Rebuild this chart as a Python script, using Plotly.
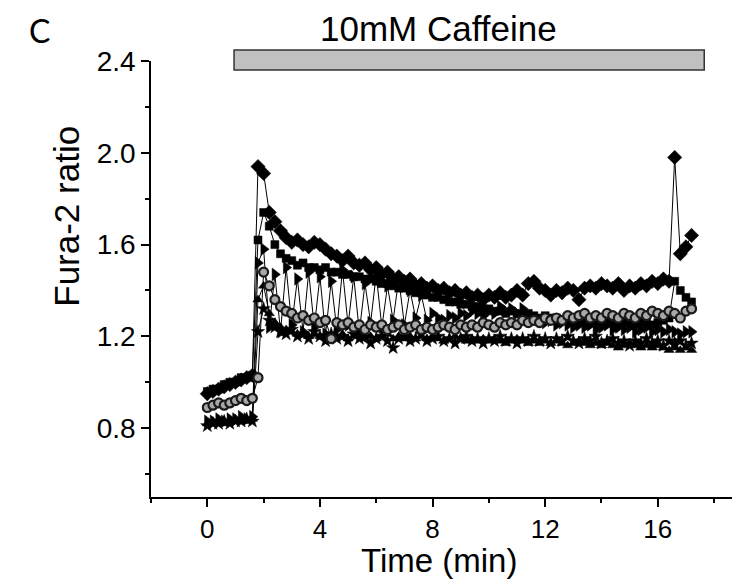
import plotly.graph_objects as go

# Time grid (min)
time_min = [
    0.0, 0.2, 0.4, 0.6, 0.8, 1.0, 1.2, 1.4, 1.6, 1.8,
    2.0, 2.2, 2.4, 2.6, 2.8, 3.0, 3.2, 3.4, 3.6, 3.8,
    4.0, 4.2, 4.4, 4.6, 4.8, 5.0, 5.2, 5.4, 5.6, 5.8,
    6.0, 6.2, 6.4, 6.6, 6.8, 7.0, 7.2, 7.4, 7.6, 7.8,
    8.0, 8.2, 8.4, 8.6, 8.8, 9.0, 9.2, 9.4, 9.6, 9.8,
    10.0, 10.2, 10.4, 10.6, 10.8, 11.0, 11.2, 11.4, 11.6, 11.8,
    12.0, 12.2, 12.4, 12.6, 12.8, 13.0, 13.2, 13.4, 13.6, 13.8,
    14.0, 14.2, 14.4, 14.6, 14.8, 15.0, 15.2, 15.4, 15.6, 15.8,
    16.0, 16.2, 16.4, 16.6, 16.8, 17.0, 17.2,
]

cell_diamond = [
    0.95, 0.96, 0.97, 0.98, 0.99, 1.00, 1.01, 1.02, 1.03, 1.94,
    1.91, 1.74, 1.70, 1.66, 1.63, 1.61, 1.62, 1.60, 1.59, 1.61,
    1.60, 1.58, 1.56, 1.55, 1.53, 1.55, 1.52, 1.51, 1.52, 1.49,
    1.50, 1.47, 1.48, 1.45, 1.46, 1.44, 1.45, 1.42, 1.43, 1.41,
    1.42, 1.40, 1.41, 1.39, 1.40, 1.38, 1.39, 1.37, 1.38, 1.36,
    1.38, 1.37, 1.39, 1.37, 1.38, 1.40, 1.38, 1.43, 1.44, 1.41,
    1.40, 1.38, 1.40, 1.39, 1.41, 1.40, 1.36, 1.41, 1.42, 1.41,
    1.43, 1.42, 1.41, 1.43, 1.40, 1.42, 1.41, 1.43, 1.42, 1.44,
    1.43, 1.45, 1.44, 1.98, 1.56, 1.59, 1.64,
]

cell_square = [
    0.96, 0.97, 0.97, 0.99, 1.00, 1.00, 1.02, 1.02, 1.03, 1.62,
    1.74, 1.68, 1.60, 1.56, 1.54, 1.53, 1.51, 1.52, 1.50, 1.50,
    1.49, 1.50, 1.48, 1.48, 1.47, 1.47, 1.46, 1.46, 1.45, 1.45,
    1.44, 1.43, 1.43, 1.42, 1.41, 1.41, 1.40, 1.39, 1.39, 1.38,
    1.37, 1.37, 1.36, 1.35, 1.35, 1.34, 1.34, 1.33, 1.33, 1.32,
    1.32, 1.31, 1.31, 1.30, 1.31, 1.30, 1.29, 1.30, 1.29, 1.28,
    1.29, 1.28, 1.28, 1.27, 1.28, 1.27, 1.27, 1.26, 1.27, 1.26,
    1.26, 1.27, 1.26, 1.25, 1.26, 1.26, 1.25, 1.26, 1.26, 1.25,
    1.26, 1.27, 1.28, 1.44, 1.40, 1.37, 1.35,
]

cell_circle = [
    0.89, 0.90, 0.91, 0.90, 0.91, 0.92, 0.93, 0.92, 0.93, 1.02,
    1.48, 1.42, 1.36, 1.33, 1.31, 1.30, 1.28, 1.29, 1.27, 1.28,
    1.26, 1.27, 1.19, 1.26, 1.25, 1.26, 1.24, 1.25, 1.23, 1.25,
    1.24, 1.25, 1.23, 1.24, 1.25, 1.23, 1.24, 1.25, 1.23, 1.24,
    1.23, 1.24, 1.25, 1.24, 1.23, 1.25, 1.24, 1.25, 1.24, 1.26,
    1.25, 1.24, 1.26, 1.25, 1.26, 1.25, 1.27, 1.26, 1.27, 1.26,
    1.28, 1.27, 1.28, 1.27, 1.29, 1.28, 1.29, 1.30, 1.28, 1.29,
    1.28, 1.30, 1.29, 1.28, 1.30, 1.29, 1.28, 1.30, 1.29, 1.31,
    1.30, 1.29, 1.31, 1.30, 1.28, 1.31, 1.32,
]

cell_right_tri = [
    0.83, 0.83, 0.84, 0.83, 0.84, 0.84, 0.85, 0.84, 0.85, 1.52,
    1.58, 1.24, 1.47, 1.22, 1.50, 1.25, 1.45, 1.22, 1.48, 1.24,
    1.46, 1.21, 1.44, 1.23, 1.49, 1.25, 1.46, 1.22, 1.43, 1.26,
    1.47, 1.24, 1.42, 1.27, 1.45, 1.25, 1.40, 1.28, 1.38, 1.27,
    1.30, 1.28, 1.27, 1.29, 1.28, 1.30, 1.29, 1.31, 1.30, 1.29,
    1.31, 1.30, 1.33, 1.31, 1.32, 1.30, 1.32, 1.29, 1.28, 1.27,
    1.26, 1.27, 1.25, 1.26, 1.25, 1.24, 1.25, 1.24, 1.25, 1.23,
    1.24, 1.25, 1.23, 1.24, 1.23, 1.24, 1.22, 1.23, 1.24, 1.22,
    1.23, 1.22, 1.23, 1.22, 1.21, 1.22, 1.22,
]

cell_triangle = [
    0.82, 0.82, 0.83, 0.82, 0.83, 0.83, 0.84, 0.83, 0.84, 1.36,
    1.42, 1.30, 1.26, 1.24, 1.23, 1.22, 1.21, 1.22, 1.20, 1.21,
    1.20, 1.21, 1.19, 1.20, 1.21, 1.19, 1.20, 1.21, 1.19, 1.20,
    1.19, 1.20, 1.21, 1.19, 1.20, 1.19, 1.20, 1.19, 1.20, 1.19,
    1.20, 1.19, 1.18, 1.19, 1.20, 1.19, 1.18, 1.19, 1.18, 1.19,
    1.18, 1.19, 1.18, 1.17, 1.18, 1.19, 1.18, 1.17, 1.18, 1.17,
    1.18, 1.17, 1.18, 1.17, 1.16, 1.17, 1.18, 1.17, 1.16, 1.17,
    1.16, 1.17, 1.16, 1.15, 1.16, 1.17, 1.16, 1.15, 1.16, 1.15,
    1.16, 1.15, 1.14, 1.15, 1.14, 1.15, 1.14,
]

cell_star = [
    0.81, 0.82, 0.82, 0.83, 0.82, 0.83, 0.83, 0.84, 0.83, 1.22,
    1.32, 1.27, 1.24, 1.22, 1.21, 1.23, 1.20, 1.21, 1.19, 1.22,
    1.20, 1.18, 1.21, 1.19, 1.20, 1.18, 1.21, 1.19, 1.20, 1.17,
    1.19, 1.20, 1.18, 1.15, 1.19, 1.20, 1.18, 1.19, 1.21, 1.18,
    1.19, 1.20, 1.18, 1.19, 1.17, 1.19, 1.20, 1.18, 1.19, 1.17,
    1.19, 1.18, 1.20, 1.18, 1.19, 1.17, 1.19, 1.18, 1.20, 1.18,
    1.19, 1.17, 1.19, 1.18, 1.20, 1.18, 1.17, 1.19, 1.18, 1.20,
    1.17, 1.18, 1.19, 1.17, 1.18, 1.16, 1.18, 1.17, 1.19, 1.17,
    1.18, 1.16, 1.18, 1.17, 1.18, 1.16, 1.17,
]

series = [
    ("star", cell_star, "star", 10, "black", "black", 0.5),
    ("triangle", cell_triangle, "triangle-up", 9, "black", "black", 0.5),
    ("right", cell_right_tri, "triangle-right", 11, "black", "black", 0.5),
    ("square", cell_square, "square", 8, "black", "black", 0.5),
    ("diamond", cell_diamond, "diamond", 11, "black", "black", 0.5),
    ("circle", cell_circle, "circle", 9, "#a8a8a8", "#1a1a1a", 2.2),
]

fig = go.Figure()
for name, vals, sym, size, fill, edge, lw in series:
    assert len(vals) == len(time_min), name
    fig.add_trace(go.Scatter(
        x=time_min, y=vals, mode="lines+markers", name=name,
        line=dict(color="black", width=1),
        marker=dict(symbol=sym, size=size, color=fill, line=dict(color=edge, width=lw)),
        showlegend=False,
    ))

font_main = "Liberation Sans, Arial, sans-serif"

fig.update_layout(
    width=732, height=573,
    margin=dict(l=143, r=0, t=53, b=84),
    paper_bgcolor="white", plot_bgcolor="white",
    font=dict(family=font_main, color="black"),
    xaxis=dict(
        range=[-2, 18.92], tickmode="linear", tick0=0, dtick=4,
        ticks="outside", ticklen=8, tickwidth=1.5, tickcolor="black",
        showline=True, linecolor="black", linewidth=1.5,
        showgrid=False, zeroline=False,
        tickfont=dict(size=26, family=font_main),
        minor=dict(ticks="outside", ticklen=4, tickwidth=1.5, dtick=2, tick0=0, tickcolor="black", showgrid=False),
    ),
    yaxis=dict(
        range=[0.5, 2.4], tickmode="linear", tick0=0, dtick=0.4, tickformat=".1f",
        ticks="outside", ticklen=8, tickwidth=1.5, tickcolor="black",
        showline=True, linecolor="black", linewidth=1.5,
        showgrid=False, zeroline=False,
        tickfont=dict(size=28, family=font_main),
        minor=dict(ticks="outside", ticklen=4, tickwidth=1.5, dtick=0.2, tick0=0, tickcolor="black", showgrid=False),
    ),
)

# Caffeine application bar
fig.add_shape(type="rect", xref="x", yref="paper",
              x0=0.95, x1=17.65, y0=0.9794, y1=1.0252,
              fillcolor="#c0c0c0", line=dict(color="#333333", width=1.5), layer="above")

fig.add_annotation(text="10mM Caffeine", xref="x", yref="paper", x=8.2, y=1.074,
                   xanchor="center", yanchor="middle", showarrow=False,
                   font=dict(size=35, family=font_main, color="black"))
fig.add_annotation(text="C", xref="paper", yref="paper", x=-0.1895, y=1.071,
                   xanchor="center", yanchor="middle", showarrow=False,
                   font=dict(size=32, family="Lato, Open Sans, sans-serif", color="black"))
fig.add_annotation(text="Fura-2 ratio", xref="paper", yref="paper", x=-0.1437, y=0.6436,
                   xanchor="center", yanchor="middle", showarrow=False, textangle=-90,
                   font=dict(size=35, family=font_main, color="black"))
fig.add_annotation(text="Time (min)", xref="paper", yref="paper", x=0.4885, y=-0.145,
                   xanchor="center", yanchor="middle", showarrow=False,
                   font=dict(size=33, family=font_main, color="black"))

fig.write_html("out.html")
